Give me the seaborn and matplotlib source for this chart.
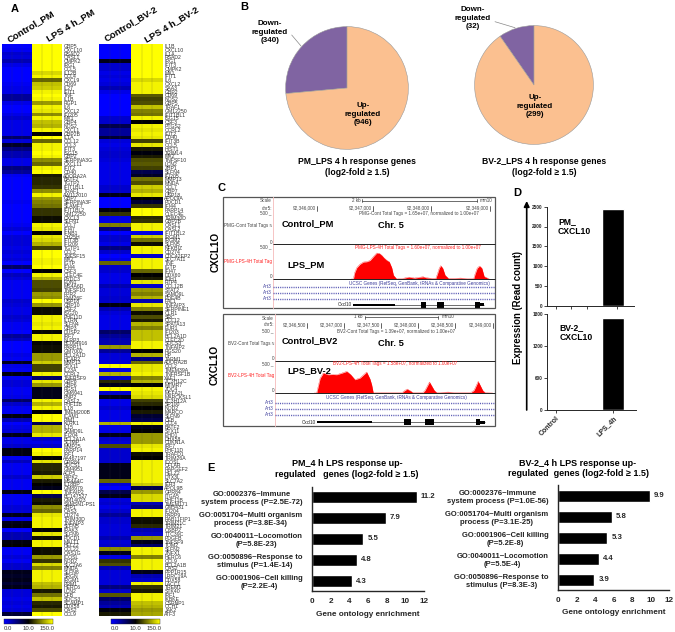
import numpy as np
import pandas as pd
import matplotlib
matplotlib.use("Agg")
import matplotlib.pyplot as plt
from matplotlib.colors import LinearSegmentedColormap
from matplotlib.patches import Rectangle
import seaborn as sns

pm_genes = ["GBP5","CXCL10","RSAD2","OASL1","CMPK2","IRG1","CCL5","IL12B","CCL4","CXCL9",
 "CD69","IL27","IFIT1","TNF","IL1B","RGP1","IL6","CXCL2","IFI205","MX1",
 "GBP4","NOS2","CXCL1","GBP2B","IL1A","CCL12","CCL3","IFIT3","ISG15","GBP2",
 "SERPINA3G","CXCL11","IFIT2","CD40","ADORA2A","BATF2","TGTP2","IFIT1BL1","TRAF1","AW112010",
 "GBP7","SERPINA3F","SLAMF7","IFIT1BL2","GM12250","CXCL3","SLFN1","CCL7","IFI47","IFNB1",
 "CH25H","IFIT3B","IFI209","TGTP1","CCL2","TNFSF15","MX2","IGTP","IFI44","CSF3",
 "CLEC4E","PYDC3","EDN1","MS4A6D","TNFSF10","FPR2","FAM26F","USP18","GBP10","CSF2",
 "ISG20","PHF11D","IL1RN","SLFN4","GBP3","DUSP2","IRF7","NLRP3","BC094916","PARP11",
 "GM7002","BCL2A1D","HCAR2","MMP13","STX11","IL23A","CCRL2","TNFRSF9","GBP8","GBP6",
 "RGS1","GM6941","PNP2","OASL2","PHF11B","IL18","TMEM200B","ICAM1","PIM1","KLRK1",
 "IL15","SAMD9L","IFI204","BCL2A1A","SCIMP","MMP25","PARP14","IRF1","AA467197","GPR84",
 "SOCS1","GM4951","ACP5","RIPK2","MS4A4C","IL18BP","GM8979","TNFAIP2","BC147527","GM14023",
 "SAMSN1-PS1","ZBP1","OAS3","CD274","TRIM30D","TNFAIP3","SLFN5","IRAK3","SLFN9","PDCD1",
 "MALT1","HELZ2","CCL22","OAS1G","ICOSL","NOD2","SLC2A6","MNDA","SLFN8","SRGN",
 "IRGM1","PRM1","HERC6","LCN2","CFB","SOCS3","SCAMP1","DDX58","OAS2","CCL9"]
pm_control = [-1,-.95,-.8,-.85,-.7,-.9,-1,-1,-1,-1,
 -.95,-.9,-.9,-.6,-.6,-.9,-1,-1,-.9,-.8,
 -.9,-.9,-.9,-.9,-.4,-.85,-.15,-.5,-.7,-.7,
 -.9,-.9,-.5,-.6,-.95,-1,-1,-1,-1,-1,
 -1,-.95,-1,-1,-1,-1,-1,-.95,-.85,-1,
 -.85,-.85,-.85,-.9,-.85,-.9,-.85,-1,-.4,-1,
 -.75,-.85,-.95,-.95,-.95,-.95,-.95,-.8,-.85,-.9,
 -.9,-.8,-.85,-.95,-.95,-1,-.6,-.75,-1,-1,
 -1,-.9,-.95,-.1,-.9,-.95,-.05,-.95,-.85,-.85,
 -.95,-.95,-.9,-.4,-.8,-.95,-.95,-.05,-.7,-1,
 -.9,-.85,-.1,-.9,-.9,-.8,-.05,-.05,-.95,-.75,
 -.95,-.95,-.95,-.8,-.95,-.95,-.95,-.05,-.95,-.95,
 -.95,-.85,-.85,-.1,-.9,-.1,-.05,-1,-.7,-.7,
 -.05,0,-.95,-.95,-.85,-.95,-.8,-.8,-.1,-.15,
 -.1,-.2,-.1,-.85,-.85,-.9,-.85,-.9,-.85,-.2]
pm_lps = [1,1,1,1,1,1,1,.85,.95,.4,
 .75,.8,.95,1,.95,.6,.95,.9,.55,.95,
 .75,.7,.95,0,1,.4,.95,.95,1,.95,
 .55,.4,.95,1,.1,.15,.15,.2,.55,.95,
 .6,.5,.45,.2,.2,.05,.05,.95,.9,0,
 .9,.85,.7,.25,1,1,.95,.95,1,0,
 .95,.7,.3,.3,.25,.6,.55,1,.6,.05,
 .05,.95,.95,.9,.95,.03,.95,.95,.02,.05,
 .05,.6,.6,.8,.25,.25,.95,-.4,.9,.6,
 -.1,-.1,-.1,.95,.7,.95,0,1,1,-.3,
 .7,.7,.9,-.8,-.9,-.8,1,.95,0,.9,
 .15,.15,.1,.8,.1,0,-.1,1,-.3,.1,
 .05,.55,.4,.9,.95,.95,.95,0,.9,.05,
 .95,.95,.05,.05,.6,.2,.85,.5,.95,.95,
 .95,.75,.7,.1,.45,.75,.15,.1,.3,1]

bv_genes = ["IL1B","CXCL10","IL1A","RSAD2","IRG1","IFIT3","CMPK2","MX1","IFIT1","IL6",
 "CXCL2","SAA3","GBP2","CD69","NOS2","GBP5","TRAF1","GM12250","IFIT1BL1","ISG15",
 "CSF3","PTGS2","CCRL2","IFIT2","CD40","IFIT3B","CCL5","HIST1","TRIML4","MX2",
 "TNFSF10","LCN2","ZBP1","SLFN4","IFI205","MMP13","MNDA","CCL7","GBP7","USP18",
 "APOL9A","PDCD1","IFI44","PARP14","CLEC4E","TRIM30D","GBP2B","OASL1","OASL2","IFIT1BL2",
 "IRGM1","IRGM2","SLFN5","NFKBIZ","CD274","CDC42EP2","SLC7A11","TNF","IGTP","IFI47",
 "DDX60","IFIH1","RTP4","CCL12B","STAT2","SAMD9L","PDE4B","FAL1","TNFAIP3","SERPINE1",
 "OLR1","SRC","CCL12","SPATA13","EUR1","IFI203","BCL2A1D","CLEC2D","SOCS3","TNFAIP2",
 "RGS20","HP","TARM1","ADORA2B","CCL2","TMEM39A","TNFRSF1B","XAF1","ZC3H12C","MTMR7",
 "ZDC4","MEFA2L","MARCKSL1","ZC3H12A","SP100","NOD2","MARCO","SLFN9","CFB","CCL4",
 "BATF2","STX11","EHD1","DHX58","CDKN1A","IRF7","PHF11D","TRAFD1","TRIM26A","ICOSL",
 "CFLAR","RAPGEF2","HELZ2","DTX3L","SLC7A2","IER3","APOL9B","GPR84","ITGA5","PHF11B",
 "TMEM171","GM5431","IFI204","PARP9","RAB11FIP1","TRIM21C","TRIM21","OSBP2","TTC39C","PDGFB",
 "TNFSF9","TOM2","SLFN2","ZNFX1","HERC6","CCL9","BCL2A1B","OAS2","PPP1R15","LRRC19A",
 "DDX58","LACC1","TREM1","STK40","IRF1","IKBKE","CSRNP1","OCH1","JAK2","ATF3"]
bv_control = [-1,-1,-1,-1,-.1,-.8,-.8,-.9,-.85,-.9,
 -.85,-.7,-.9,-1,-1,-1,-1,-1,-1,-.8,
 -.8,-.3,-.6,-.6,-.2,-.85,-.9,-.85,-.8,-.8,
 -.85,-.9,-.9,-.9,-.9,-.9,-.9,-.8,-.8,-.1,
 -1,-1,-1,-.05,.2,-.9,-.9,.5,-.5,-1,
 -.8,-.8,-.9,-.5,-.8,-1,-.9,.4,-.8,-.8,
 -.9,-.9,-.9,-.7,-.85,-.85,-.8,-.8,-.05,-.7,
 -.85,-.9,-.9,-.9,-.9,-.4,-.6,-.7,-.7,.6,
 -.6,-.85,-.85,-.85,1,-.9,.7,-.8,.15,-.1,
 1,-.8,-.1,-.9,-.9,-.8,-.9,-.9,-.9,.7,
 -.9,-.9,-.1,-.8,-.85,.3,-.8,-.8,-.8,-.8,
 -.1,-.1,-.1,-.1,.4,-.85,-1,-.3,-.1,-.85,
 -.8,-.9,-.8,-.6,-.8,-.8,-.85,-.85,-.85,-.7,
 -.85,-.8,.55,-.1,-.9,.2,.3,-.7,-.85,-.85,
 -.85,-.85,-.5,-.8,.35,-.4,-.6,-.7,-.05,.1]
bv_lps = [1,1,1,1,1,1,1,1,1,.85,
 .95,.95,.95,.35,.25,.3,.75,.5,.45,.95,
 0,.95,.9,.95,.9,.25,.9,.1,-.05,.1,
 .3,.35,.25,-.3,-.15,.45,.3,.8,.7,.9,
 0,-.2,.2,1,1,.15,.2,.95,.95,-.9,
 .8,.45,.05,.95,.95,-.8,.95,.95,.95,.4,
 0,.1,.9,-.8,.6,.5,.7,-.7,.9,.5,
 .05,.3,.1,.7,.5,.75,.75,.75,.95,.95,
 0,.7,-.5,.4,.9,.9,.95,.5,.7,0,
 .95,.9,.85,.25,.15,0,.1,-.2,-.3,.95,
 -.1,0,.6,.6,.6,.9,.95,.05,0,.95,
 .95,.95,.95,.95,.95,.8,-.3,.6,.85,.85,
 -.7,-.5,.95,.95,.05,.05,.15,-.7,-.8,.6,
 -.1,-.4,.95,.95,.5,.95,.95,.95,-.1,-.7,
 -.8,.95,.2,.1,.95,.95,.75,.7,.6,.65]
heat_columns = ["c1","c2","c3","l1","l2","l3"]
colorbar_labels = ["0.0","10.0","150.0"]

pie_labels = ["Down-regulated","Up-regulated"]
pm_pie = [340,946]
bv_pie = [32,299]

d_categories = ["Control","LPS_4h"]
pm_cxcl10 = [0,2433]
bv_cxcl10 = [0,1719]

pm_go = ["GO:0002376~Immune\nsystem process (P=2.5E-72)","GO:0051704~Multi organism\nprocess (P=3.8E-34)",
         "GO:0040011~Locomotion\n(P=5.8E-23)","GO:0050896~Response to\nstimulus (P=1.4E-14)",
         "GO:0001906~Cell killing\n(P=2.2E-4)"]
pm_enrich = [11.2,7.9,5.5,4.8,4.3]
bv_go = ["GO:0002376~Immune\nsystem process (P=1.0E-56)","GO:0051704~Multi organism\nprocess (P=3.1E-25)",
         "GO:0001906~Cell killing\n(P=5.2E-8)","GO:0040011~Locomotion\n(P=5.5E-4)",
         "GO:0050896~Response to\nstimulus (P=8.3E-3)"]
bv_enrich = [9.9,5.8,5.3,4.4,3.9]

pm_pos = [346600,346637,346660,346696,346750,346810,346870,346927,346985,347043,347090,347130,347170,347217,
          347260,347304,347333,347391,347500,347600,347700,347808,347850,347900,348000,348070,348098,348130,
          348156,348190,348231,348290,348400,348500,348650,348730,348753,348790,348830,348870,348910,349000]
pm_tags = [0,0,100,177,230,265,270,290,350,406,400,370,330,292,270,177,60,0,10,30,15,30,35,20,10,10,80,170,
           208,170,60,10,10,15,5,10,80,170,203,170,40,0]
bv_pos = [346600,346634,346680,346723,346790,346850,346903,346970,347038,347090,347149,347216,347306,347350,
          347373,347395,347500,347600,347780,347807,347850,347898,347930,348060,348090,348150,348215,348250,
          348400,348500,348700,348748,348805,348866,348900,349000]
bv_tags = [0,0,230,312,286,290,286,310,338,290,208,234,328,220,130,0,8,5,3,30,62,30,3,3,40,172,40,5,
           15,5,3,40,182,40,3,0]
gene1_thick = [(346637,347362)]
gene1_exons = [(347808,347896),(348098,348220),(348753,348840)]
gene1_tail = [(348840,348910)]
gene1_span = (346637,348910)
gene2_thick = [(346642,347373)]
gene2_exons = [(347807,347898),(348090,348215),(348775,348830)]
gene2_tail = [(348830,348895)]
gene2_span = (346642,348895)

sns.set_theme(style="ticks")
plt.rcParams["font.family"] = ["Liberation Sans","DejaVu Sans"]
W, H = 675, 632
fig = plt.figure(figsize=(W/100, H/100), dpi=100)

def axpx(x0, y0, x1, y1, **kw):
    return fig.add_axes([x0/W, 1-y1/H, (x1-x0)/W, (y1-y0)/H], **kw)

ov = axpx(0, 0, W, H, zorder=5)
ov.set_xlim(0, W); ov.set_ylim(H, 0); ov.axis("off"); ov.patch.set_alpha(0)

def t(x, y, s, size=6, bold=True, ha="center", va="center", color="black", **kw):
    ov.text(x, y, s, fontsize=size, fontweight="bold" if bold else "normal", ha=ha, va=va, color=color, **kw)

# Panel labels
for x, y, s in [(15,9,"A"),(244,7,"B"),(222,188,"C"),(517,193,"D"),(211,468,"E")]:
    t(x, y, s, size=8)

# A: heat maps
cm = LinearSegmentedColormap.from_list("byb", ["#0000ff", "#000000", "#ffff00"])
def heat(genes, ctrl, lps, rect, cbrect):
    tab = pd.DataFrame({c: (ctrl if c[0] == "c" else lps) for c in heat_columns}, index=genes)
    ax = axpx(*rect)
    cax = axpx(*cbrect)
    sns.heatmap(tab, ax=ax, cmap=cm, vmin=-1, vmax=1, xticklabels=False, yticklabels=list(genes),
                linewidths=0, cbar_ax=cax, cbar_kws={"orientation": "horizontal"})
    ax.vlines([1, 2, 4, 5], 0, len(genes), color="#444444", lw=0.25, alpha=0.5)
    ax.yaxis.tick_right()
    ax.tick_params(axis="y", length=0, pad=1, labelsize=3.7, labelcolor="#333333", labelrotation=0)
    ax.set_xlabel(""); ax.set_ylabel("")
    cb = ax.collections[0].colorbar
    cb.set_ticks([-.84, 0, .75]); cb.set_ticklabels(colorbar_labels)
    cax.tick_params(axis="x", length=0, pad=1.5, labelsize=4.3, labelcolor="#333333")
    cb.outline.set_linewidth(0.3)
heat(pm_genes, pm_control, pm_lps, (2.3,44,62,616), (4,619,53,624))
heat(bv_genes, bv_control, bv_lps, (99,44,163,616), (111,619,160,624))
for x, y, s in [(31,26,"Control_PM"),(71,25,"LPS 4 h_PM"),(131,23,"Control_BV-2"),(171,24,"LPS 4 h_BV-2")]:
    t(x, y, s, size=6.8, rotation=31)

# B: pies
PIE = ["#8064A2", "#FBC090"]
def pie(vals, cx, cy, r):
    ax = axpx(cx-r, cy-r, cx+r, cy+r)
    ax.pie(vals, colors=PIE, startangle=90, radius=1, wedgeprops={"edgecolor": "#999999", "linewidth": 0.4})
    ax.set_xlim(-1.01, 1.01); ax.set_ylim(-1.01, 1.01)
pie(pm_pie, 347, 88, 62)
pie(bv_pie, 534, 85, 60)
LS = 1.25
t(270, 32, "Down-\nregulated\n(340)", size=5.8, linespacing=LS)
t(363, 114, "Up-\nregulated\n(946)", size=5.8, linespacing=LS)
t(473, 18, "Down-\nregulated\n(32)", size=5.8, linespacing=LS)
t(535, 106, "Up-\nregulated\n(299)", size=5.8, linespacing=LS)
t(357, 167, "PM_LPS 4 h response genes\n(log2-fold \u2265 1.5)", size=6.2, linespacing=1.2)
t(544, 167, "BV-2_LPS 4 h response genes\n(log2-fold \u2265 1.5)", size=6.2, linespacing=1.2)
ov.plot([291.7,301],[35,46], color="#888888", lw=0.5)
ov.plot([495,515],[21.7,27.7], color="#888888", lw=0.5)

# C: browser tracks
def browser(top, bot, left, right, xl, xr, base, sig_top, pos, tags, thick, exons, tail, span, art_ys, gene_y):
    ov.add_patch(Rectangle((223, top), 272, bot-top, fill=False, ec="#555555", lw=0.9))
    ov.plot([left, left], [top, bot], color="#f6c4c4", lw=0.7)
    ax = axpx(left, sig_top, right, base)
    sns.lineplot(x=pos, y=tags, ax=ax, color="#ff0000", lw=0.2, errorbar=None, estimator=None, sort=False)
    ax.fill_between(pos, tags, color="#ff0000", lw=0)
    ax.set_xlim(xl, xr); ax.set_ylim(0, 500); ax.axis("off")
    for y in art_ys:
        ov.plot([left, right], [y, y], color="#5a5ab4", lw=1.0, ls=(0, (0.8, 0.8)))
    g = axpx(left, gene_y-3, right, gene_y+3)
    g.set_xlim(xl, xr); g.set_ylim(-1, 1); g.axis("off")
    g.hlines(0, span[0], span[1], color="black", lw=0.4)
    for a, b in thick:
        g.fill_between([a, b], -0.33, 0.33, color="black", lw=0)
    for a, b in exons:
        g.fill_between([a, b], -1, 1, color="black", lw=0)
    for a, b in tail:
        g.fill_between([a, b], -0.5, 0.5, color="black", lw=0)
    return ax

browser(197,308,273,495,345240,349099,279,247,pm_pos,pm_tags,gene1_thick,gene1_exons,gene1_tail,gene1_span,[287,293,299],305)
browser(314,426,274.7,495,346070,349031,393,361,bv_pos,bv_tags,gene2_thick,gene2_exons,gene2_tail,gene2_span,[403,409,415],422)

G = "#444444"; N = "#3a3a9a"; R = "#ff2020"; TS = 3.3
ov.hlines([244,279,361,393],[273,273,274.7,274.7],495,color="#222222",lw=0.7)
for y, s in [(201,"Scale"),(208,"chr5:"),(213,"500 _"),(226,"PMG-Cont Total Tags \u2248"),(242,"0"),(247,"500 _"),(277,"0")]:
    t(272, y, s, size=TS, bold=False, ha="right", color=G)
t(272, 262, "PMG-LPS-4H Total Tag", size=TS, bold=False, ha="right", color=R)
for y in (287,293,299):
    t(272, y, "Art3", size=TS, bold=False, ha="right", color=N)
for px, s in [(316.7,"92,346,000"),(373,"92,347,000"),(430.7,"92,348,000"),(490,"92,349,000")]:
    t(px-1, 208, s, size=TS, bold=False, ha="right", color=G)
    ov.plot([px,px],[205.5,210.5],color="#222222",lw=0.5)
t(361, 200.5, "2 kb", size=TS, bold=False, ha="right", color=G)
ov.plot([362,477],[200.5,200.5],color="#333333",lw=0.5)
ov.plot([362,362],[199,202],color="#333333",lw=0.5); ov.plot([477,477],[199,202],color="#333333",lw=0.5)
t(480, 200.5, "mm10", size=TS, bold=False, ha="left", color=G)
t(359, 213, "PMG-Cont Total Tags = 1.65e+07, normalized to 1.00e+07", size=TS, bold=False, ha="left", color=G)
t(355, 247, "PMG-LPS-4H Total Tags = 1.60e+07, normalized to 1.00e+07", size=TS, bold=False, ha="left", color=R)
t(349, 283, "UCSC Genes (RefSeq, GenBank, tRNAs & Comparative Genomics)", size=TS, bold=False, ha="left", color=N)
t(352, 305, "Cxcl10", size=TS, bold=False, ha="right", color="#222222")

for y, s in [(318,"Scale"),(325,"chr5:"),(331,"500 _"),(343,"BV2-Cont Total Tags \u2248"),(358,"0"),(364,"500 _"),(391,"0")]:
    t(274, y, s, size=TS, bold=False, ha="right", color=G)
t(274, 376, "BV2-LPS-4H Total Tag", size=TS, bold=False, ha="right", color=R)
for y in (403,409,415):
    t(274, y, "Art3", size=TS, bold=False, ha="right", color=N)
for px, s in [(306.7,"92,346,500"),(344,"92,347,000"),(381.3,"92,347,500"),(418.3,"92,348,000"),(455.3,"92,348,500"),(492.7,"92,349,000")]:
    t(px-1, 325, s, size=TS, bold=False, ha="right", color=G)
    ov.plot([px,px],[322.5,327.5],color="#222222",lw=0.5)
t(363, 317, "1 kb", size=TS, bold=False, ha="right", color=G)
ov.plot([365,438],[317,317],color="#333333",lw=0.5)
ov.plot([365,365],[315.5,318.5],color="#333333",lw=0.5); ov.plot([438,438],[315.5,318.5],color="#333333",lw=0.5)
t(442, 317, "mm10", size=TS, bold=False, ha="left", color=G)
t(337, 331, "BV2-Cont Total Tags = 1.39e+07, normalized to 1.00e+07", size=TS, bold=False, ha="left", color=G)
t(333, 364, "BV2-LPS-4H Total Tags = 1.58e+07, normalized to 1.00e+07", size=TS, bold=False, ha="left", color=R)
t(326, 397, "UCSC Genes (RefSeq, GenBank, tRNAs & Comparative Genomics)", size=TS, bold=False, ha="left", color=N)
t(316, 422, "Cxcl10", size=TS, bold=False, ha="right", color="#222222")

for x, y, s in [(282,224,"Control_PM"),(287,265,"LPS_PM"),(282,341,"Control_BV2"),(287,371,"LPS_BV-2")]:
    t(x, y, s, size=6.7, ha="left")
t(391, 225, "Chr. 5", size=6.7); t(391, 343, "Chr. 5", size=6.7)
t(216, 252, "CXCL1O", size=7.2, rotation=90)
t(215, 365, "CXCL1O", size=7.2, rotation=90)

# D: expression bars
def dbars(vals, rect, ymax, yticks, xmax, xticks, labels):
    ax = axpx(*rect)
    df = pd.DataFrame({"cond": d_categories, "count": vals})
    sns.barplot(df, x="cond", y="count", color="black", width=0.385, ax=ax, saturation=1)
    ax.set_xlim(-0.15, xmax); ax.set_ylim(0, ymax)
    ax.set_yticks(yticks)
    ax.set_xticks(xticks)
    ax.set_xticklabels(labels)
    ax.set_xlabel(""); ax.set_ylabel("")
    sns.despine(ax=ax)
    for sp in ax.spines.values():
        sp.set_linewidth(0.7)
    ax.tick_params(axis="y", length=2.5, width=0.6, pad=0.5, labelsize=3.4)
    ax.tick_params(axis="x", length=2.5, width=0.6, pad=1, labelsize=5)
    for l in ax.get_yticklabels():
        l.set_fontweight("bold")
    return ax
dbars(pm_cxcl10, (547,206.7,634,305.7), 2500, [0,500,1000,1500,2000,2500], 1.365, [0,.27,.54,1.07], ["","","",""])
axb = dbars(bv_cxcl10, (547,314,636,410.3), 1800, [0,600,1200,1800], 1.395, [0,1], d_categories)
for l in axb.get_xticklabels():
    l.set_rotation(45); l.set_ha("right"); l.set_rotation_mode("anchor"); l.set_fontweight("bold")
ov.annotate("", xy=(526.7,201), xytext=(526.7,410), arrowprops=dict(arrowstyle="-|>", color="black", lw=1.2, mutation_scale=8, shrinkA=0, shrinkB=0))
t(518, 307, "Expression (Read count)", size=6.9, rotation=90)
t(558, 226.5, "PM_\nCXCL10", size=6.2, ha="left", linespacing=1.25)
t(559.5, 332.5, "BV-2_\nCXCL10", size=6.2, ha="left", linespacing=1.25)

# E: gene ontology bars
def gobars(go, vals, rect, top_off, bot_off):
    ax = axpx(*rect)
    df = pd.DataFrame({"term": go, "enrich": vals})
    sns.barplot(df, y="term", x="enrich", color="black", width=0.59, orient="h", ax=ax, saturation=1)
    ax.set_xlim(0, 12); ax.set_ylim(bot_off, top_off)
    ax.set_xticks(range(0, 13, 2))
    ax.set_ylabel(""); ax.set_xlabel("Gene ontology enrichment", fontsize=5.9, fontweight="bold", labelpad=4)
    sns.despine(ax=ax)
    for sp in ("left", "bottom"):
        ax.spines[sp].set_linewidth(1.0)
    ax.tick_params(axis="x", length=0, pad=5, labelsize=5.9)
    ax.tick_params(axis="y", length=0, pad=7, labelsize=5.5)
    for l in ax.get_xticklabels():
        l.set_fontweight("bold")
    for l in ax.get_yticklabels():
        l.set_fontweight("bold"); l.set_multialignment("center"); l.set_linespacing(1.2); l.set_color("#222222")
    ax.bar_label(ax.containers[0], fmt="%.1f", padding=3, fontsize=5.6, fontweight="bold")
gobars(pm_go, pm_enrich, (312,486.7,424,591), -0.49, 4.476)
gobars(bv_go, bv_enrich, (558.3,485,669.3,590), -0.51, 4.49)
t(347, 469, "PM_4 h LPS response up-\nregulated   genes (log2-fold \u2265 1.5)", size=6.5, linespacing=1.2)
t(578, 468.5, "BV-2_4 h LPS response up-\nregulated  genes (log2-fold \u2265 1.5)", size=6.5, linespacing=1.2)

fig.savefig("out.png", dpi=100, facecolor="white")
